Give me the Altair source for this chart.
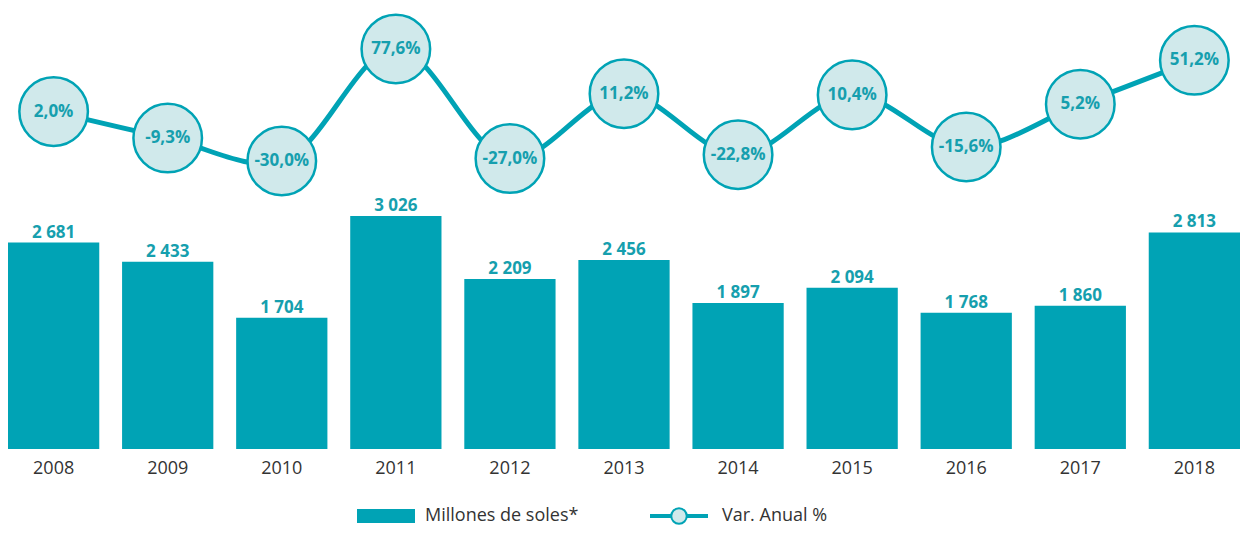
import altair as alt
import pandas as pd

years = ["2008", "2009", "2010", "2011", "2012", "2013", "2014", "2015", "2016", "2017", "2018"]
millones = [2681, 2433, 1704, 3026, 2209, 2456, 1897, 2094, 1768, 1860, 2813]
var_pct = [2.0, -9.3, -30.0, 77.6, -27.0, 11.2, -22.8, 10.4, -15.6, 5.2, 51.2]

df = pd.DataFrame({
    "year": years,
    "millones": millones,
    "var": var_pct,
    "mlabel": [f"{v:,}".replace(",", " ") for v in millones],
    "vlabel": [f"{v:.1f}%".replace(".", ",") for v in var_pct],
})

TEAL = "#00A3B5"
LIGHT = "#D0E9EB"
TXT = "#169FAE"
GRAY = "#333333"
FONT = "Open Sans"

xenc = alt.X("year:N", sort=years,
             scale=alt.Scale(paddingInner=0.2, paddingOuter=0),
             axis=alt.Axis(title=None, labelAngle=0, ticks=False, domain=False,
                           labelFontSize=18, labelColor=GRAY, labelFont=FONT,
                           labelPadding=10))

bar_scale = alt.Scale(domain=[0, 3026], range=[441, 208], zero=True)
var_scale = alt.Scale(type="symlog", constant=10, domain=[-30, 77.6], range=[153, 41])

base = alt.Chart(df)

bars = base.mark_bar(color=TEAL).encode(
    x=xenc,
    y=alt.Y("millones:Q", scale=bar_scale, axis=None),
)
bar_text = base.mark_text(color=TXT, font=FONT, fontSize=17, fontWeight=700,
                          baseline="alphabetic", dy=-5).encode(
    x=xenc,
    y=alt.Y("millones:Q", scale=bar_scale, axis=None),
    text="mlabel:N",
)
line = base.mark_line(color=TEAL, strokeWidth=5, interpolate="catmull-rom").encode(
    x=xenc,
    y=alt.Y("var:Q", scale=var_scale, axis=None),
)
circles = base.mark_circle(size=4700, fill=LIGHT, stroke=TEAL, strokeWidth=2.5,
                           opacity=1).encode(
    x=xenc,
    y=alt.Y("var:Q", scale=var_scale, axis=None),
)
circle_text = base.mark_text(color=TXT, font=FONT, fontSize=17, fontWeight=700,
                             baseline="middle").encode(
    x=xenc,
    y=alt.Y("var:Q", scale=var_scale, axis=None),
    text="vlabel:N",
)

one = alt.Data(values=[{"a": 1}])
leg_rect = alt.Chart(one).mark_rect(color=TEAL).encode(
    x=alt.value(349), x2=alt.value(407), y=alt.value(501), y2=alt.value(515))
leg_text1 = alt.Chart(one).mark_text(align="left", baseline="middle", fontSize=18,
                                     font=FONT, color=GRAY,
                                     text="Millones de soles*").encode(
    x=alt.value(417), y=alt.value(508))
leg_line = alt.Chart(one).mark_rule(color=TEAL, strokeWidth=4).encode(
    x=alt.value(642), x2=alt.value(700), y=alt.value(508))
leg_circ = alt.Chart(one).mark_point(shape="circle", size=240, filled=True, fill=LIGHT,
                                     stroke=TEAL, strokeWidth=2, opacity=1).encode(
    x=alt.value(671), y=alt.value(508))
leg_text2 = alt.Chart(one).mark_text(align="left", baseline="middle", fontSize=18,
                                     font=FONT, color=GRAY,
                                     text="Var. Anual %").encode(
    x=alt.value(714), y=alt.value(508))

chart = alt.layer(
    bars, bar_text, line, circles, circle_text,
    leg_rect, leg_text1, leg_line, leg_circ, leg_text2,
).resolve_scale(y="independent").properties(
    width=1232, height=441, padding=0,
).configure_view(stroke=None)

chart.save("out.html", embed_options={"renderer": "svg", "actions": False})
